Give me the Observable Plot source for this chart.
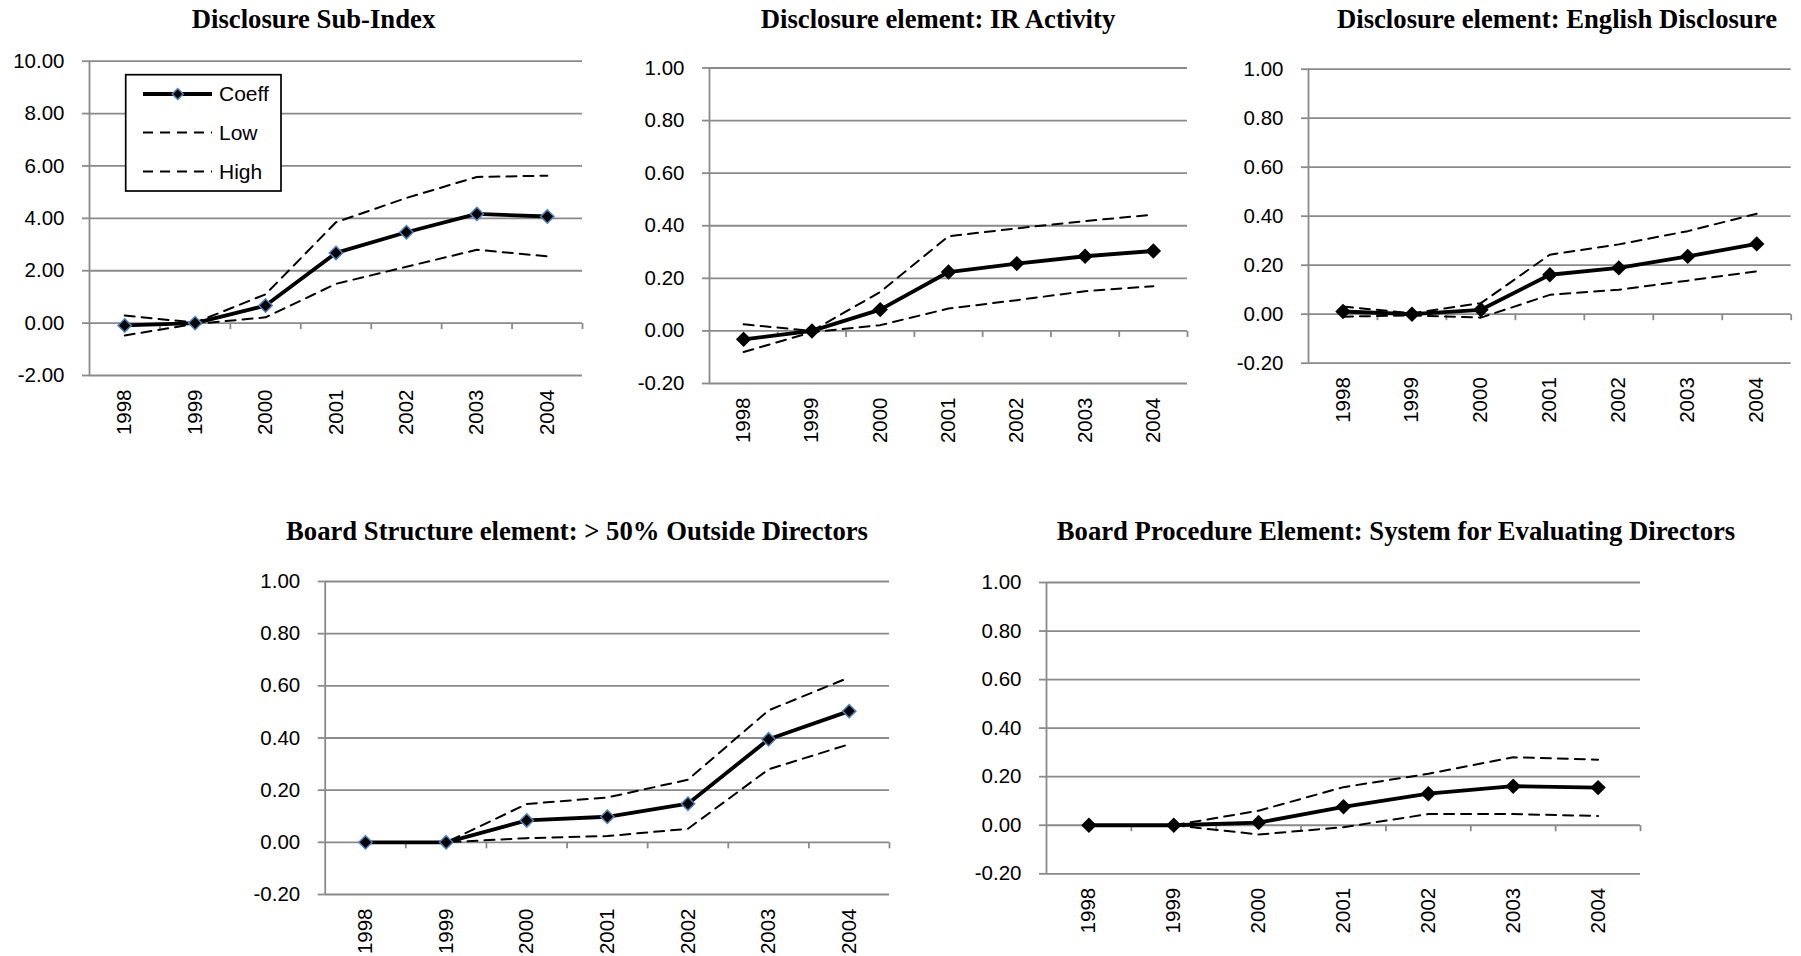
<!DOCTYPE html>
<html><head><meta charset="utf-8">
<script src="https://cdn.jsdelivr.net/npm/d3@7"></script>
<script src="https://cdn.jsdelivr.net/npm/@observablehq/plot@0.6"></script>
<style>
html,body{margin:0;padding:0;background:#fff;}
#page{position:relative;width:1801px;height:956px;overflow:hidden;background:#fff;}
.panel{position:absolute;}
.title{position:absolute;width:900px;text-align:center;font-family:"Liberation Serif","Times New Roman",serif;font-weight:bold;font-size:26.7px;line-height:26px;color:#000;white-space:nowrap;}
</style></head><body><div id="page"></div>
<script>
// ---------- data ----------
const years = [1998, 1999, 2000, 2001, 2002, 2003, 2004];

const subIndexCoeff = [-0.09, 0.00, 0.67, 2.68, 3.47, 4.17, 4.07];
const subIndexLow   = [-0.47, -0.03, 0.22, 1.50, 2.15, 2.80, 2.55];
const subIndexHigh  = [0.29, 0.02, 1.10, 3.85, 4.78, 5.58, 5.63];

const irCoeff = [-0.032, 0.000, 0.081, 0.224, 0.256, 0.284, 0.304];
const irLow   = [-0.080, -0.005, 0.022, 0.085, 0.117, 0.151, 0.170];
const irHigh  = [0.025, 0.000, 0.148, 0.360, 0.390, 0.418, 0.442];

const englishCoeff = [0.011, 0.000, 0.018, 0.161, 0.189, 0.236, 0.287];
const englishLow   = [-0.010, -0.005, -0.014, 0.079, 0.100, 0.137, 0.175];
const englishHigh  = [0.031, 0.004, 0.045, 0.243, 0.285, 0.339, 0.410];

const outsideCoeff = [0.000, 0.000, 0.084, 0.098, 0.148, 0.395, 0.503];
const outsideLow   = [0.000, 0.000, 0.016, 0.024, 0.052, 0.280, 0.376];
const outsideHigh  = [0.000, 0.000, 0.147, 0.172, 0.240, 0.506, 0.632];

const evalCoeff = [0.000, 0.000, 0.011, 0.076, 0.130, 0.161, 0.155];
const evalLow   = [0.000, 0.000, -0.038, -0.008, 0.046, 0.046, 0.038];
const evalHigh  = [0.000, 0.000, 0.060, 0.157, 0.212, 0.280, 0.270];

const indexTicks   = [-2, 0, 2, 4, 6, 8, 10];
const elementTicks = [-0.2, 0, 0.2, 0.4, 0.6, 0.8, 1.0];

const titles = [
  "Disclosure Sub-Index",
  "Disclosure element: IR Activity",
  "Disclosure element: English Disclosure",
  "Board Structure element: > 50% Outside Directors",
  "Board Procedure Element: System for Evaluating Directors"
];
const legendLabels = ["Coeff", "Low", "High"];

// ---------- styling / layout ----------
const GRAY = "#8a8a8a";
const BLUE = "#4f81bd";
const FONT = "'Liberation Sans', Arial, sans-serif";

const panels = [
  {title: titles[0], coeff: subIndexCoeff, low: subIndexLow, high: subIndexHigh, ticks: indexTicks,
   left: 0, top: 0, width: 600, height: 445, frame: [89, 582, 60.7, 375], tx: 313.5, ty: 19, marker: BLUE},
  {title: titles[1], coeff: irCoeff, low: irLow, high: irHigh, ticks: elementTicks,
   left: 600, top: 0, width: 600, height: 450, frame: [709, 1187, 67.5, 383], tx: 938, ty: 19, marker: "#000"},
  {title: titles[2], coeff: englishCoeff, low: englishLow, high: englishHigh, ticks: elementTicks,
   left: 1200, top: 0, width: 601, height: 430, frame: [1308, 1790.7, 68.7, 362.7], tx: 1557, ty: 19, marker: "#000"},
  {title: titles[3], coeff: outsideCoeff, low: outsideLow, high: outsideHigh, ticks: elementTicks,
   left: 220, top: 480, width: 700, height: 476, frame: [324.7, 889, 581, 894], tx: 577, ty: 531, marker: BLUE},
  {title: titles[4], coeff: evalCoeff, low: evalLow, high: evalHigh, ticks: elementTicks,
   left: 940, top: 480, width: 740, height: 476, frame: [1046, 1640, 582, 873.3], tx: 1396, ty: 531, marker: "#000"}
];

const tickDown = {draw(ctx) { ctx.moveTo(0, 0); ctx.lineTo(0, 6); }};

const page = document.getElementById("page");

for (const p of panels) {
  const rows = years.map((year, i) => ({year, x: i + 0.5, coeff: p.coeff[i], low: p.low[i], high: p.high[i]}));
  const centers = rows.map(d => d.x);
  const bounds = d3.range(1, years.length + 1);
  const [x0, x1, y0, y1] = p.frame;
  const chart = Plot.plot({
    width: p.width,
    height: p.height,
    marginLeft: x0 - p.left,
    marginRight: p.left + p.width - x1,
    marginTop: y0 - p.top,
    marginBottom: p.top + p.height - y1,
    x: {type: "linear", domain: [0, years.length], axis: null},
    y: {type: "linear", domain: [p.ticks[0], p.ticks[p.ticks.length - 1]], axis: null},
    style: {fontFamily: FONT, fontSize: "20.5px", color: "#000", background: "transparent", overflow: "visible"},
    marks: [
      Plot.ruleY(p.ticks, {stroke: GRAY, strokeWidth: 1.8}),
      Plot.ruleX([0], {stroke: GRAY, strokeWidth: 1.8}),
      Plot.dot(bounds, {x: d => d, y: () => 0, symbol: tickDown, stroke: GRAY, strokeWidth: 1.8, fill: "none"}),
      Plot.axisY({ticks: p.ticks, tickFormat: d => d.toFixed(2), tickSize: 7, tickPadding: 18,
                  stroke: GRAY, strokeWidth: 1.8, fill: "#000", fontSize: 20.5, label: null}),
      Plot.axisX({ticks: centers, tickFormat: d => String(years[Math.round(d - 0.5)]), tickRotate: -90,
                  tickSize: 0, tickPadding: 14, fontSize: 20.5, fill: "#000", label: null}),
      Plot.line(rows, {x: "x", y: "low", stroke: "#000", strokeWidth: 2, strokeDasharray: "10,7"}),
      Plot.line(rows, {x: "x", y: "high", stroke: "#000", strokeWidth: 2, strokeDasharray: "10,7"}),
      Plot.line(rows, {x: "x", y: "coeff", stroke: "#000", strokeWidth: 3.8}),
      Plot.dot(rows, {x: "x", y: "coeff", symbol: "diamond2", r: 6, fill: "#000", stroke: p.marker, strokeWidth: 1.5})
    ]
  });
  chart.classList.add("panel");
  chart.style.left = p.left + "px";
  chart.style.top = p.top + "px";
  page.appendChild(chart);

  const t = document.createElement("div");
  t.className = "title";
  t.textContent = p.title;
  t.style.left = (p.tx - 450) + "px";
  t.style.top = (p.ty - 13) + "px";
  page.appendChild(t);
}

// ---------- legend (panel 1) ----------
const lg = d3.select(page).append("svg")
  .attr("width", 170).attr("height", 130)
  .style("position", "absolute").style("left", "120px").style("top", "70px")
  .style("font-family", FONT);
lg.append("rect").attr("x", 5.7).attr("y", 4.7).attr("width", 155.3).attr("height", 116.3)
  .attr("fill", "#fff").attr("stroke", "#000").attr("stroke-width", 1.7);
const rowsY = [24, 62.4, 101.4];
legendLabels.forEach((lab, i) => {
  const g = lg.append("g").attr("transform", `translate(0,${rowsY[i]})`);
  const line = g.append("line").attr("x1", 23).attr("x2", 92).attr("y1", 0).attr("y2", 0).attr("stroke", "#000");
  if (i === 0) {
    line.attr("stroke-width", 3.8);
    g.append("path").attr("d", d3.symbol(d3.symbolDiamond2, Math.PI * 25)()).attr("transform", "translate(57.7,0)")
      .attr("fill", "#000").attr("stroke", BLUE).attr("stroke-width", 1.5);
  } else {
    line.attr("stroke-width", 2).attr("stroke-dasharray", "10,7");
  }
  g.append("text").attr("x", 99).attr("y", 0).attr("dy", "0.35em").attr("font-size", 21).attr("fill", "#000").text(lab);
});
</script></body></html>
